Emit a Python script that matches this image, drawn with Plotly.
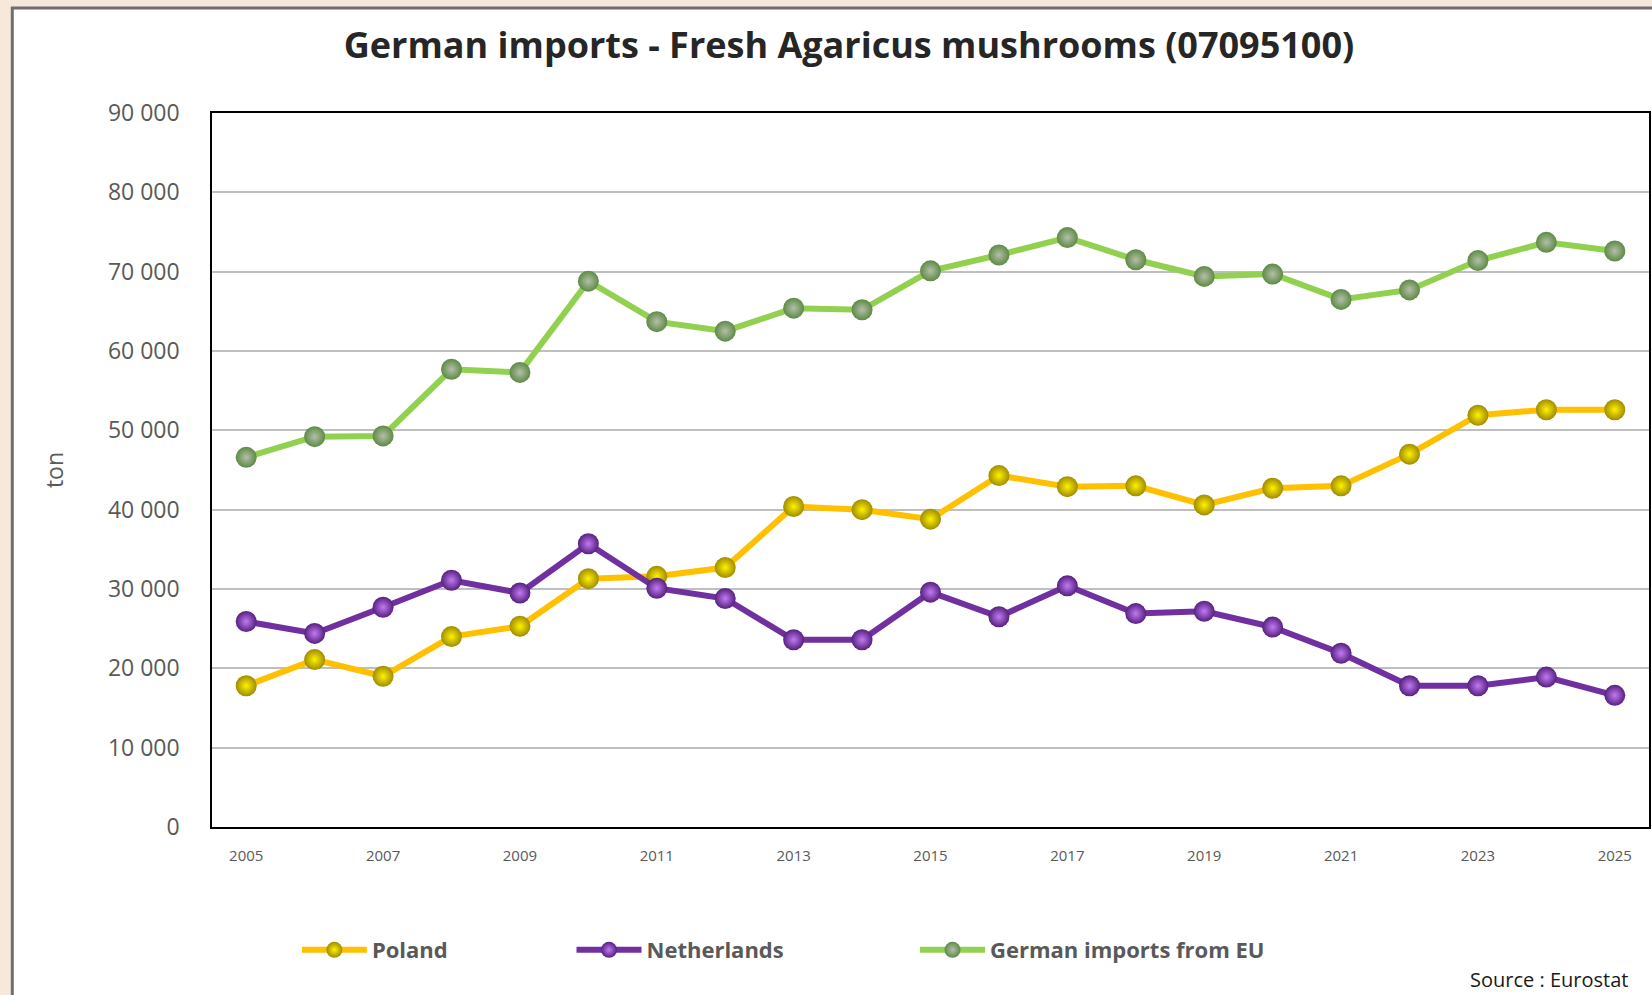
import plotly.graph_objects as go

years = list(range(2005, 2026))
poland = [17800, 21100, 19000, 24000, 25300, 31300, 31600, 32700, 40400, 40000, 38800,
          44300, 42900, 43000, 40600, 42700, 43000, 47000, 51900, 52600, 52600]
netherlands = [25900, 24400, 27700, 31100, 29500, 35700, 30100, 28800, 23600, 23600, 29600,
               26500, 30400, 26900, 27200, 25200, 21900, 17800, 17800, 18900, 16600]
eu_total = [46600, 49200, 49300, 57700, 57300, 68800, 63700, 62500, 65400, 65200, 70100,
            72100, 74300, 71500, 69400, 69700, 66500, 67700, 71400, 73700, 72600]

series_names = ["Poland", "Netherlands", "German imports from EU"]
y_ticks = [0, 10000, 20000, 30000, 40000, 50000, 60000, 70000, 80000, 90000]
y_tick_labels = ["0", "10 000", "20 000", "30 000", "40 000", "50 000", "60 000",
                 "70 000", "80 000", "90 000"]
x_ticks = list(range(2005, 2026, 2))

W, H = 1652, 995
L, R, T, B = 212, 1, 113, 168
PW = W - L - R
PH = H - T - B


def px_x(px):
    return (px - L) / PW


def px_y(py):
    return (H - B - py) / PH


styles = [
    dict(line="#FFC000", marker="#A08C00", hi="#FFF200", legend="legend"),
    dict(line="#7030A0", marker="#55207F", hi="#C27AF2", legend="legend2"),
    dict(line="#92D050", marker="#5E8A45", hi="#B4BFAA", legend="legend3"),
]

fig = go.Figure()
for name, vals, st in zip(series_names, [poland, netherlands, eu_total], styles):
    fig.add_trace(go.Scatter(
        x=years, y=vals, name=name, mode="lines+markers",
        line=dict(color=st["line"], width=6),
        marker=dict(size=21, color=st["marker"], line=dict(width=0),
                    gradient=dict(type="radial", color=st["hi"])),
        legend=st["legend"], showlegend=True,
    ))

leg_font = dict(family="Open Sans", size=22, color="#595959", weight="bold")
leg_common = dict(orientation="h", yanchor="middle", xanchor="left",
                  font=leg_font, itemwidth=65, bgcolor="rgba(0,0,0,0)",
                  y=px_y(950), tracegroupgap=0)

fig.update_layout(
    width=W, height=H,
    showlegend=True,
    margin=dict(l=L, r=R, t=T, b=B),
    paper_bgcolor="#F6E9DC",
    plot_bgcolor="white",
    title=dict(text="<b>German imports - Fresh Agaricus mushrooms (07095100)</b>",
               x=849 / W, xanchor="center", y=1 - 45 / H, yanchor="middle",
               yref="container", xref="container",
               font=dict(family="Open Sans", size=36, color="#262626")),
    legend=dict(x=px_x(297), **leg_common),
    legend2=dict(x=px_x(572), **leg_common),
    legend3=dict(x=px_x(916), **leg_common),
    xaxis=dict(range=[2004.5, 2025.5], tickmode="array", tickvals=x_ticks,
               ticktext=[str(v) for v in x_ticks], showgrid=False, zeroline=False,
               showline=True, linecolor="black", linewidth=1.5, mirror=True,
               ticks="", ticklabelstandoff=14,
               tickfont=dict(family="Open Sans", size=15, color="#595959")),
    yaxis=dict(range=[0, 90000], tickmode="array", tickvals=y_ticks,
               ticktext=y_tick_labels, showgrid=True, gridcolor="#BFBFBF", gridwidth=2,
               zeroline=False, showline=True, linecolor="black", linewidth=1.5,
               mirror=True, ticks="", ticklabelstandoff=26,
               tickfont=dict(family="Open Sans", size=23, color="#595959"),
               title=dict(text="ton", standoff=38,
                          font=dict(family="Open Sans", size=23, color="#595959"))),
    shapes=[
        dict(type="rect", xref="paper", yref="paper", layer="below",
             x0=px_x(12), x1=px_x(W + 20), y0=px_y(H + 20), y1=px_y(8),
             fillcolor="white", line=dict(color="#6E6E6E", width=3)),
    ],
    annotations=[
        dict(text="Source : Eurostat", xref="paper", yref="paper",
             x=px_x(1632), y=px_y(980), xanchor="right", yanchor="middle",
             showarrow=False,
             font=dict(family="Open Sans", size=20, color="#1A1A1A")),
    ],
)

fig.write_html("out.html", config={"displayModeBar": False},
               post_script="document.body.style.margin='0';document.body.style.overflow='hidden';")
